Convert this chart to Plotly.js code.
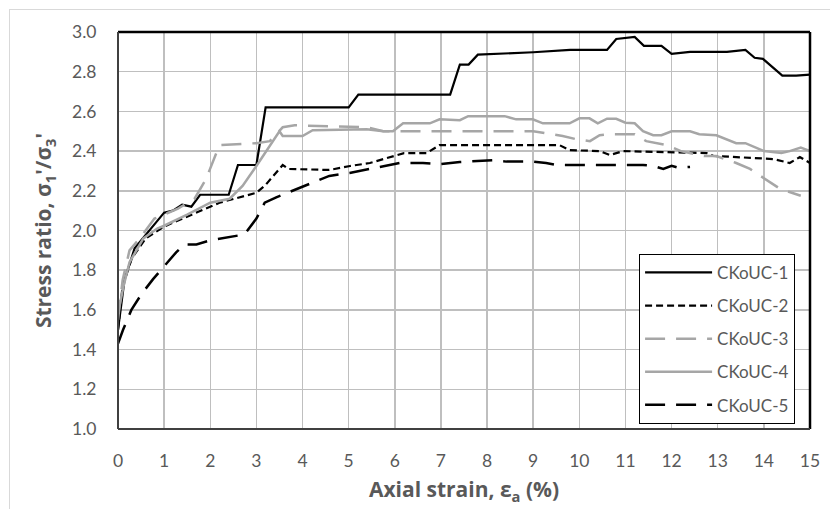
<!DOCTYPE html>
<html><head><meta charset="utf-8">
<script src="https://cdn.plot.ly/plotly-3.0.1.min.js"></script>
<style>
html,body{margin:0;padding:0;background:#fff;overflow:hidden;}
#frame{position:absolute;left:9px;top:9px;width:900px;height:600px;border-left:1px solid #d9d9d9;border-top:1px solid #d9d9d9;pointer-events:none;}
#chart{position:absolute;left:0;top:0;width:830px;height:509px;}
</style></head>
<body>
<div id="chart"></div>
<div id="frame"></div>
<script>
// CKoUC-1
const x1 = [0, 0.14, 0.36, 1.0, 1.19, 1.39, 1.59, 1.78, 2.40, 2.6, 3.0, 3.2, 5.0, 5.21, 7.2, 7.41, 7.6, 7.8, 9.0, 9.8, 10.6, 10.8, 11.2, 11.4, 11.78, 12.0, 12.4, 12.76, 13.2, 13.6, 13.8, 13.98, 14.4, 14.7, 15.0];
const y1 = [1.5, 1.75, 1.91, 2.09, 2.10, 2.13, 2.12, 2.18, 2.18, 2.33, 2.33, 2.62, 2.62, 2.685, 2.685, 2.836, 2.836, 2.886, 2.898, 2.91, 2.91, 2.965, 2.975, 2.93, 2.93, 2.89, 2.90, 2.90, 2.90, 2.91, 2.87, 2.865, 2.78, 2.78, 2.785];
// CKoUC-2
const x2 = [0, 0.1, 0.3, 0.6, 1.0, 1.5, 2.2, 3.0, 3.2, 3.57, 3.7, 4.58, 5.03, 5.46, 5.96, 6.2, 6.69, 6.97, 9.57, 9.79, 10.44, 10.66, 10.95, 12.76, 12.9, 14.2, 14.56, 14.78, 15.0];
const y2 = [1.5, 1.72, 1.86, 1.96, 2.02, 2.07, 2.14, 2.19, 2.23, 2.33, 2.31, 2.305, 2.325, 2.34, 2.376, 2.39, 2.39, 2.43, 2.43, 2.405, 2.40, 2.38, 2.40, 2.39, 2.376, 2.36, 2.34, 2.37, 2.34];
// CKoUC-3
const x3 = [0, 0.1, 0.25, 0.47, 0.79, 1.0, 1.3, 1.66, 1.91, 2.2, 3.0, 3.29, 3.57, 3.83, 5.0, 5.39, 5.75, 9.0, 9.64, 9.93, 10.23, 10.44, 10.7, 11.2, 11.45, 11.9, 12.2, 12.7, 12.97, 13.4, 13.7, 14.1, 14.35, 14.8];
const y3 = [1.55, 1.75, 1.9, 1.96, 2.06, 2.08, 2.11, 2.16, 2.26, 2.43, 2.44, 2.45, 2.52, 2.53, 2.52, 2.52, 2.50, 2.50, 2.476, 2.46, 2.45, 2.48, 2.485, 2.485, 2.45, 2.43, 2.40, 2.375, 2.375, 2.34, 2.31, 2.25, 2.21, 2.175];
// CKoUC-4
const x4 = [0, 0.12, 0.25, 0.55, 0.85, 1.0, 1.5, 2.0, 2.42, 2.7, 3.0, 3.29, 3.5, 3.57, 4.0, 4.22, 5.0, 5.39, 5.75, 5.96, 6.18, 6.76, 6.97, 7.41, 7.59, 8.38, 8.63, 8.99, 9.21, 9.79, 10.0, 10.22, 10.4, 10.6, 10.8, 11.0, 11.2, 11.38, 11.6, 11.78, 12.0, 12.4, 12.6, 12.97, 13.4, 13.6, 14.0, 14.38, 14.56, 14.8, 15.0];
const y4 = [1.58, 1.72, 1.84, 1.96, 2.01, 2.024, 2.08, 2.14, 2.16, 2.225, 2.325, 2.43, 2.50, 2.476, 2.476, 2.505, 2.51, 2.51, 2.50, 2.50, 2.54, 2.54, 2.56, 2.556, 2.576, 2.576, 2.56, 2.56, 2.54, 2.54, 2.565, 2.565, 2.54, 2.563, 2.563, 2.543, 2.54, 2.50, 2.48, 2.48, 2.50, 2.50, 2.485, 2.48, 2.44, 2.44, 2.40, 2.39, 2.40, 2.418, 2.40];
// CKoUC-5
const x5 = [0, 0.11, 0.29, 0.51, 0.76, 1.01, 1.26, 1.44, 1.7, 1.99, 2.24, 2.46, 2.74, 3.0, 3.18, 3.43, 4.0, 4.58, 5.02, 6.11, 6.61, 6.97, 7.41, 8.13, 8.42, 8.99, 9.28, 9.5, 10.44, 11.38, 11.6, 11.82, 12.0, 12.14, 12.4];
const y5 = [1.43, 1.50, 1.60, 1.68, 1.755, 1.82, 1.89, 1.93, 1.93, 1.95, 1.96, 1.97, 1.98, 2.06, 2.14, 2.167, 2.22, 2.275, 2.29, 2.34, 2.34, 2.334, 2.345, 2.354, 2.347, 2.347, 2.34, 2.33, 2.33, 2.33, 2.326, 2.31, 2.326, 2.317, 2.32];

const seriesNames = ["CKoUC-1", "CKoUC-2", "CKoUC-3", "CKoUC-4", "CKoUC-5"];
const xTicks = [0,1,2,3,4,5,6,7,8,9,10,11,12,13,14,15];
const yTicks = [1.0,1.2,1.4,1.6,1.8,2.0,2.2,2.4,2.6,2.8,3.0];

const styles = [
  {color:"#000000", width:2.2, dash:"solid"},
  {color:"#000000", width:2.2, dash:"7px,4px"},
  {color:"#a6a6a6", width:2.5, dash:"20px,11px"},
  {color:"#a6a6a6", width:2.5, dash:"solid"},
  {color:"#000000", width:2.5, dash:"20px,11px"}
];
const xs = [x1,x2,x3,x4,x5], ys = [y1,y2,y3,y4,y5];
const traces = seriesNames.map((n,i)=>({
  x: xs[i], y: ys[i], name: n, type:"scatter", mode:"lines",
  line: styles[i], legendgroup: "g"+i, hoverinfo:"skip"
}));

const FONT = "Lato, 'Open Sans', sans-serif";
const TFONT = "'Open Sans', sans-serif";
const GREY = "#595959";
const layout = {
  width: 830, height: 509,
  margin: {l:118, r:20, t:32, b:80},
  paper_bgcolor: "rgba(0,0,0,0)", plot_bgcolor: "#fff",
  font: {family: FONT, color: GREY, size: 17},
  showlegend: true,
  legend: {
    x: 0.753, y: 0.441, xanchor: "left", yanchor: "top",
    bordercolor: "#000", borderwidth: 1, bgcolor: "#fff",
    font: {family: FONT, size: 17, color: GREY},
    tracegroupgap: 8, itemwidth: 67
  },
  xaxis: {
    range: [0, 15], tickvals: xTicks, ticktext: xTicks.map(String),
    showgrid: true, gridcolor: "#bfbfbf", gridwidth: 1.5,
    zeroline: false, showline: false, ticks: "outside", ticklen: 16, tickcolor: "rgba(0,0,0,0)",
    tickfont: {family: FONT, size: 17.5, color: GREY},
    title: {text: "<b>Axial strain, ε<sub>a</sub> (%)</b>", font: {family: TFONT, size: 21, color: GREY}, standoff: 12}
  },
  yaxis: {
    range: [1.0, 3.0], tickvals: yTicks, ticktext: yTicks.map(v=>v.toFixed(1)),
    showgrid: true, gridcolor: "#bfbfbf", gridwidth: 1.5,
    zeroline: false, showline: false, ticks: "outside", ticklen: 17, tickcolor: "rgba(0,0,0,0)",
    tickfont: {family: FONT, size: 17.5, color: GREY},
    title: {text: "<b>Stress ratio, σ<sub>1</sub>'/σ<sub>3</sub>'</b>", font: {family: TFONT, size: 21, color: GREY}, standoff: 14}
  },
  shapes: [
    {type:"line", xref:"paper", yref:"paper", x0:0, x1:1, y0:1, y1:1, line:{color:"#000", width:2.5}},
    {type:"line", xref:"paper", yref:"paper", x0:1, x1:1, y0:0, y1:1, line:{color:"#000", width:2.5}},
    {type:"line", xref:"paper", yref:"paper", x0:0, x1:0, y0:0, y1:1, line:{color:"#404040", width:2}},
    {type:"line", xref:"paper", yref:"paper", x0:0, x1:1, y0:0, y1:0, line:{color:"#404040", width:2}}
  ]
};
Plotly.newPlot("chart", traces, layout, {displayModeBar:false, staticPlot:true});
</script>
</body></html>
